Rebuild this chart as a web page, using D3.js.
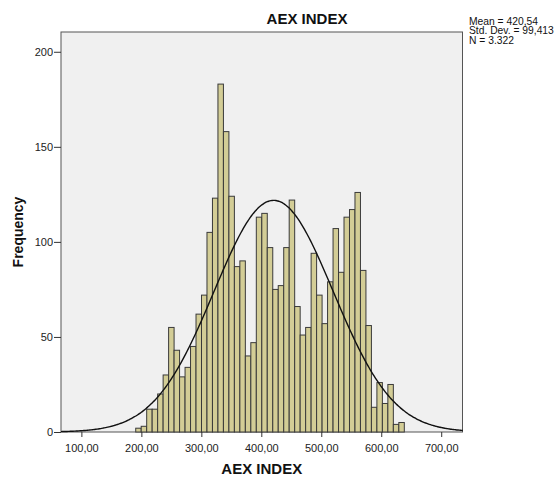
<!DOCTYPE html>
<meta charset="utf-8">
<head>
  <script src="https://d3js.org/d3.v7.min.js"></script>
</head>
<style>

body {
  margin: 0;
  background: white;
  font-family: "Liberation Sans", Arial, sans-serif;
}

.bar {
  fill: #d3cd96;
  stroke: #3a3a3a;
  stroke-width: 1;
}

.axis text {
  font-family: "Liberation Sans", Arial, sans-serif;
  font-size: 11px;
  fill: #222;
}

.axis path, .axis line {
  stroke: #333;
}

.title, .axis-label {
  font-weight: bold;
  fill: #111;
}

.stats {
  font-size: 10.3px;
  fill: #111;
}

</style>

<body>
<svg width="560" height="478" id="container"></svg>
<script>

// histogram counts, one per bin
var counts = [2, 3, 12, 12, 20, 30, 55, 43, 29, 34, 45, 62, 72, 105, 123, 183, 158,
              124, 87, 90, 40, 47, 113, 115, 97, 75, 77, 97, 122, 66, 51, 55, 94,
              72, 57, 79, 107, 84, 113, 117, 126, 85, 56, 13, 26, 15, 25, 4, 5];
var binStart = 190.6,
    binWidth = 9.14;

var mean = 420.54,
    stdDev = 99.413,
    n = 3322;

var xTicks = [100, 200, 300, 400, 500, 600, 700];
var yTicks = [0, 50, 100, 150, 200];
var statLines = ['Mean = 420,54', 'Std. Dev. = 99,413', 'N = 3.322'];

var svg = d3.select('#container');

var plot = {left: 61, right: 462.5, top: 32, bottom: 432};

var xScale = d3.scaleLinear().domain([66, 735.5]).range([plot.left, plot.right]),
    yScale = d3.scaleLinear().domain([0, 210.4]).range([plot.bottom, plot.top]);

var comma = function(v, digits) { return v.toFixed(digits).replace('.', ','); };

// plot background
svg.append('rect')
   .attr('x', plot.left)
   .attr('y', plot.top)
   .attr('width', plot.right - plot.left)
   .attr('height', plot.bottom - plot.top)
   .attr('fill', '#f0f0f0')
   .attr('stroke', '#555')
   .attr('stroke-width', 1);

// bars
svg.selectAll('.bar')
   .data(counts)
   .enter()
   .append('rect')
   .attr('class', 'bar')
   .attr('x', function(d, i) { return xScale(binStart + i * binWidth); })
   .attr('width', function(d, i) { return xScale(binStart + (i + 1) * binWidth) - xScale(binStart + i * binWidth); })
   .attr('y', function(d) { return yScale(d); })
   .attr('height', function(d) { return yScale(0) - yScale(d); });

// normal curve fitted with the shown mean / sd / N
var curveX = d3.range(xScale.domain()[0], xScale.domain()[1] + 1, 2);
var line = d3.line()
             .x(function(v) { return xScale(v); })
             .y(function(v) {
               var z = (v - mean) / stdDev;
               return yScale(n * binWidth * Math.exp(-0.5 * z * z) / (stdDev * Math.sqrt(2 * Math.PI)));
             })
             .curve(d3.curveBasis);

svg.append('path')
   .datum(curveX)
   .attr('d', line)
   .attr('fill', 'none')
   .attr('stroke', '#111')
   .attr('stroke-width', 1.4);

// axes
svg.append('g')
   .attr('class', 'axis axis--x')
   .attr('transform', 'translate(0,' + plot.bottom + ')')
   .call(d3.axisBottom(xScale).tickValues(xTicks).tickSize(5).tickSizeOuter(0)
           .tickFormat(function(d) { return comma(d, 2); }))
   .call(function(g) { g.select('.domain').remove(); })
   .selectAll('text')
   .attr('dy', '1.05em');

svg.append('g')
   .attr('class', 'axis axis--y')
   .attr('transform', 'translate(' + plot.left + ',0)')
   .call(d3.axisLeft(yScale).tickValues(yTicks).tickSize(7).tickSizeOuter(0))
   .call(function(g) { g.select('.domain').remove(); })
   .selectAll('text')
   .attr('x', -8);

// texts
svg.append('text')
   .attr('class', 'title')
   .attr('x', 307)
   .attr('y', 24)
   .attr('text-anchor', 'middle')
   .attr('font-size', '15px')
   .text('AEX INDEX');

svg.append('text')
   .attr('class', 'axis-label')
   .attr('x', (plot.left + plot.right) / 2)
   .attr('y', 474)
   .attr('text-anchor', 'middle')
   .attr('font-size', '15px')
   .text('AEX INDEX');

svg.append('text')
   .attr('class', 'axis-label')
   .attr('transform', 'translate(23,' + (plot.top + plot.bottom) / 2 + ') rotate(-90)')
   .attr('text-anchor', 'middle')
   .attr('font-size', '14px')
   .text('Frequency');

svg.selectAll('.stats')
   .data(statLines)
   .enter()
   .append('text')
   .attr('class', 'stats')
   .attr('x', 469)
   .attr('y', function(d, i) { return 24.5 + i * 9.6; })
   .text(function(d) { return d; });

</script>
</body>
